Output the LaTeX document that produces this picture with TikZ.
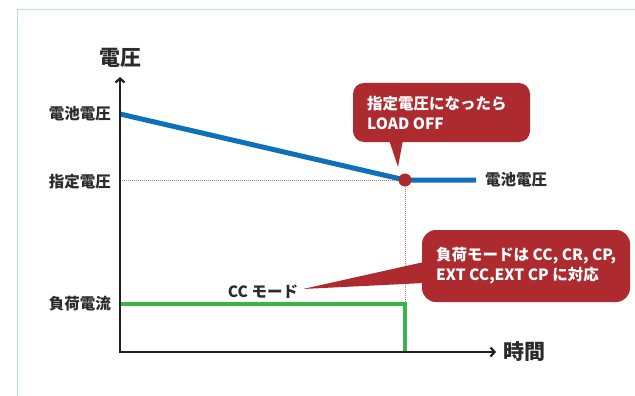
\documentclass[tikz,border=0pt]{standalone}
\usepackage{fontspec}
\setmainfont{Noto Sans CJK JP}
\usetikzlibrary{arrows.meta}
\definecolor{axisc}{HTML}{231F20}
\definecolor{bluec}{HTML}{0F6FB8}
\definecolor{greenc}{HTML}{3BB54A}
\definecolor{redc}{HTML}{AD2B2F}
\definecolor{dotc}{HTML}{F06A5A}
\definecolor{framec}{HTML}{B4E4D3}
\definecolor{textc}{HTML}{2B2B2B}
\tikzset{
  axisline/.style={axisc, line width=2.6pt, {Straight Barb[length=4pt,width=9pt,line width=2.2pt]}-{Straight Barb[length=4pt,width=9pt,line width=2.2pt]}},
  dotline/.style={dotc, line width=1pt, dash pattern=on 1pt off 1pt},
  blueline/.style={bluec, line width=5pt},
  greenline/.style={greenc, line width=4pt},
  lbl/.style={textc, font=\bfseries\fontsize{15.5}{18}\selectfont, inner sep=0pt},
  biglbl/.style={textc, font=\bfseries\fontsize{21}{24}\selectfont, inner sep=0pt},
  calltext/.style={white, font=\bfseries\fontsize{15.5}{20}\selectfont, align=left, inner sep=0pt, anchor=west},
  callfill/.style={fill=redc, draw=none},
}
\begin{document}
\begin{tikzpicture}[x=1pt,y=-1pt]
\useasboundingbox (0,0) rectangle (635,396);
% frame
\draw[framec, line width=1pt] (17,396) -- (17,10) -- (635,10);
% coordinates
\coordinate (O) at (120,352);
\coordinate (ytop) at (120,77);
\coordinate (xend) at (496,352);
\coordinate (vstart) at (120,114);
\coordinate (dot) at (405,180);
\coordinate (vend) at (476,180);
\coordinate (hdotstart) at (120,180);
\coordinate (vdotend) at (405,304);
\coordinate (gstart) at (120,304);
\coordinate (gcorner) at (405,304);
\coordinate (gend) at (405,352);
% dotted guides
\draw[dotline] (hdotstart) -- (dot) -- (vdotend);
% curves
\draw[blueline] (vstart) -- (dot) -- (vend);
\draw[greenline] (gstart) -- (gcorner) -- (gend);
% axes
\draw[axisline] (ytop) -- (O) -- (xend);
% dot
\fill[redc] (dot) circle (6.5);
% axis labels
\node[biglbl] (ylab) at (120,58) {電圧};
\node[biglbl, anchor=west] (xlab) at (503,352) {時間};
\node[lbl, anchor=east] (l1) at (111,114) {電池電圧};
\node[lbl, anchor=east] (l2) at (111,182) {指定電圧};
\node[lbl, anchor=east] (l3) at (111,304) {負荷電流};
\node[lbl, anchor=west] (l4) at (485,180) {電池電圧};
\node[lbl] (ccm) at (263,292) {CC モード};
% callout 1
\fill[redc, rounded corners=11pt] (353,83) rectangle (530,142);
\fill[redc] (389,140) -- (398,167) -- (403,140) -- cycle;
\node[calltext] (c1) at (367,113) {指定電圧になったら\\LOAD OFF};
% callout 2
\fill[redc, rounded corners=14pt] (422,230) rectangle (630,302);
\fill[redc] (424,262) -- (303,289) -- (424,283) -- cycle;
\node[calltext] (c2) at (436,266) {負荷モードは CC, CR, CP,\\EXT CC,EXT CP に対応};
\end{tikzpicture}
\end{document}
